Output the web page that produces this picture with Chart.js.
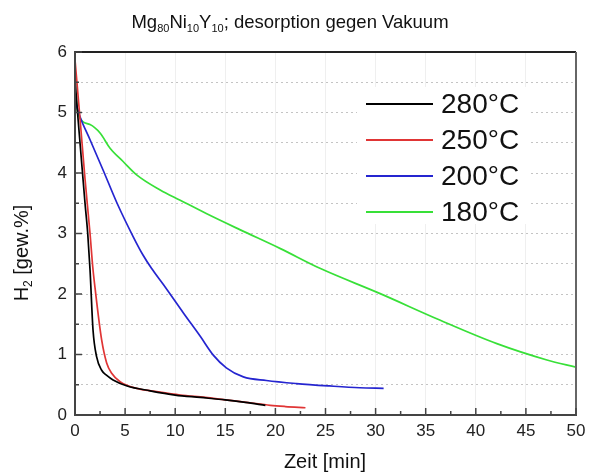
<!DOCTYPE html>
<html>
<head>
<meta charset="utf-8">
<script src="https://cdn.jsdelivr.net/npm/chart.js@4"></script>
<style>
  html, body { margin: 0; padding: 0; background: #fff; }
  #wrap { width: 592px; height: 473px; }
</style>
</head>
<body>
<div id="wrap"><canvas id="chart" width="592" height="473"></canvas></div>
<script>
// series: time [min] and H2 content [gew.%]
const labels = ['280°C', '250°C', '200°C', '180°C'];
const colors = ['#000000', '#e03535', '#2525d0', '#38e038'];

const t280 = [0, 0.3, 0.7, 1.0, 1.27, 1.5, 1.8, 2.16, 2.66, 3.2, 3.8, 5.2, 7.5, 10, 12.5, 15, 17, 19];
const h280 = [5.55, 4.9, 4.1, 3.5, 3.0, 2.4, 1.4, 0.96, 0.74, 0.65, 0.58, 0.48, 0.40, 0.33, 0.29, 0.25, 0.21, 0.16];

const t250 = [0, 0.5, 1.0, 1.5, 1.77, 2.0, 2.66, 3.16, 3.66, 4.5, 6.15, 8, 10.5, 13, 15, 17.1, 19.5, 21, 23];
const h250 = [5.87, 4.9, 3.9, 3.0, 2.45, 2.1, 1.24, 0.86, 0.69, 0.55, 0.44, 0.39, 0.33, 0.29, 0.25, 0.21, 0.16, 0.14, 0.12];

const t200 = [0, 0.5, 1.5, 2.8, 4.2, 5.8, 6.8, 7.65, 8.8, 10.8, 12.5, 13.8, 15.1, 16.8, 19.1, 22.1, 25.4, 28.4, 30.8];
const h200 = [5.2, 4.93, 4.55, 4.05, 3.5, 2.95, 2.64, 2.42, 2.16, 1.69, 1.30, 0.99, 0.78, 0.63, 0.57, 0.52, 0.48, 0.45, 0.44];

const t180 = [0, 0.33, 1.5, 2.5, 3.5, 4.8, 6.15, 8.5, 10.5, 13.1, 16.5, 20.5, 24.5, 30.4, 36.4, 42.1, 47.1, 50];
const h180 = [5.37, 4.96, 4.80, 4.66, 4.41, 4.19, 3.97, 3.72, 3.55, 3.33, 3.06, 2.75, 2.42, 2.01, 1.57, 1.18, 0.91, 0.79];

const xTicks = [0, 5, 10, 15, 20, 25, 30, 35, 40, 45, 50];

const times = [t280, t250, t200, t180];
const values = [h280, h250, h200, h180];

const datasets = labels.map((lab, i) => ({
  label: lab,
  data: times[i].map((t, j) => ({ x: t, y: values[i][j] })),
  borderColor: colors[i],
  borderWidth: 1.7,
  pointRadius: 0,
  cubicInterpolationMode: 'monotone',
  fill: false
}));

const FONT = '"Liberation Sans", Arial, sans-serif';

// draws frame, inward ticks, legend, title and axis titles
const decorations = {
  id: 'decorations',
  afterDraw(chart) {
    const ctx = chart.ctx;
    const a = chart.chartArea;
    const xs = chart.scales.x, ys = chart.scales.y;
    ctx.save();

    // frame
    ctx.lineWidth = 2;
    ctx.strokeStyle = '#222';
    ctx.beginPath();
    ctx.moveTo(a.left, a.top); ctx.lineTo(a.right, a.top);
    ctx.stroke();
    ctx.strokeStyle = '#666';
    ctx.beginPath();
    ctx.moveTo(a.right, a.top); ctx.lineTo(a.right, a.bottom);
    ctx.stroke();
    ctx.strokeStyle = '#444';
    ctx.beginPath();
    ctx.moveTo(a.left, a.top); ctx.lineTo(a.left, a.bottom); ctx.lineTo(a.right, a.bottom);
    ctx.stroke();

    // inward ticks
    ctx.lineWidth = 1.5;
    for (let v = 0; v <= 50; v += 2.5) {
      const px = xs.getPixelForValue(v);
      const len = v % 5 === 0 ? 7 : 4;
      ctx.beginPath();
      ctx.moveTo(px, a.bottom); ctx.lineTo(px, a.bottom - len);
      ctx.stroke();
    }
    for (let v = 0; v <= 6; v += 0.5) {
      const py = ys.getPixelForValue(v);
      const len = v % 1 === 0 ? 7 : 4;
      ctx.beginPath();
      ctx.moveTo(a.left, py); ctx.lineTo(a.left + len, py);
      ctx.stroke();
    }

    // legend box (white, hides grid) and entries
    ctx.fillStyle = '#fff';
    ctx.fillRect(357, 87, 173, 137);
    ctx.font = '28px ' + FONT;
    ctx.textBaseline = 'middle';
    ctx.textAlign = 'left';
    chart.data.datasets.forEach((ds, i) => {
      const y = 104 + i * 36;
      ctx.strokeStyle = ds.borderColor;
      ctx.lineWidth = 2;
      ctx.beginPath();
      ctx.moveTo(366, y); ctx.lineTo(433, y);
      ctx.stroke();
      ctx.fillStyle = '#111';
      ctx.fillText(ds.label, 441, y + 1);
    });

    // title with subscripts
    const parts = [['Mg', 0], ['80', 1], ['Ni', 0], ['10', 1], ['Y', 0], ['10', 1], ['; desorption gegen Vakuum', 0]];
    const big = '18.5px ' + FONT, small = '11px ' + FONT;
    let w = 0;
    parts.forEach(p => { ctx.font = p[1] ? small : big; w += ctx.measureText(p[0]).width; });
    let x = 290 - w / 2;
    ctx.textBaseline = 'alphabetic';
    ctx.fillStyle = '#111';
    parts.forEach(p => {
      ctx.font = p[1] ? small : big;
      ctx.fillText(p[0], x, p[1] ? 32 : 28);
      x += ctx.measureText(p[0]).width;
    });

    // x title
    ctx.font = '20px ' + FONT;
    ctx.textAlign = 'center';
    ctx.textBaseline = 'middle';
    ctx.fillText('Zeit [min]', 325, 462);

    // y title, rotated, with subscript
    ctx.translate(28, 253);
    ctx.rotate(-Math.PI / 2);
    const yparts = [['H', 0], ['2', 1], [' [gew.%]', 0]];
    const ybig = '20px ' + FONT, ysmall = '12px ' + FONT;
    w = 0;
    yparts.forEach(p => { ctx.font = p[1] ? ysmall : ybig; w += ctx.measureText(p[0]).width; });
    x = -w / 2;
    ctx.textAlign = 'left';
    ctx.textBaseline = 'alphabetic';
    yparts.forEach(p => {
      ctx.font = p[1] ? ysmall : ybig;
      ctx.fillText(p[0], x, p[1] ? 4 : 0);
      x += ctx.measureText(p[0]).width;
    });
    ctx.restore();
  }
};

new Chart(document.getElementById('chart'), {
  type: 'line',
  data: { datasets },
  options: {
    responsive: false,
    animation: false,
    layout: { padding: { top: 52, right: 16, left: 0, bottom: 0 } },
    plugins: { legend: { display: false }, tooltip: { enabled: false } },
    scales: {
      x: {
        type: 'linear',
        min: 0, max: 50,
        afterBuildTicks: s => { s.ticks = xTicks.map(v => ({ value: v })); },
        afterFit: s => { s.height = 58; },
        ticks: { font: { size: 17, family: FONT }, color: '#222', padding: 6, maxRotation: 0 },
        grid: { drawTicks: false, color: '#efefef', lineWidth: 1 },
        border: { display: true, color: '#444', width: 2 }
      },
      y: {
        type: 'linear',
        min: 0, max: 6,
        ticks: {
          stepSize: 0.5,
          font: { size: 17, family: FONT }, color: '#222', padding: 8,
          callback: v => (v % 1 === 0 ? v : '')
        },
        afterFit: s => { s.width = 75; },
        grid: { drawTicks: false, color: '#c4c4c4', lineWidth: 1 },
        border: { display: true, color: '#444', width: 2, dash: [2, 3] }
      }
    }
  },
  plugins: [decorations]
});
</script>
</body>
</html>
